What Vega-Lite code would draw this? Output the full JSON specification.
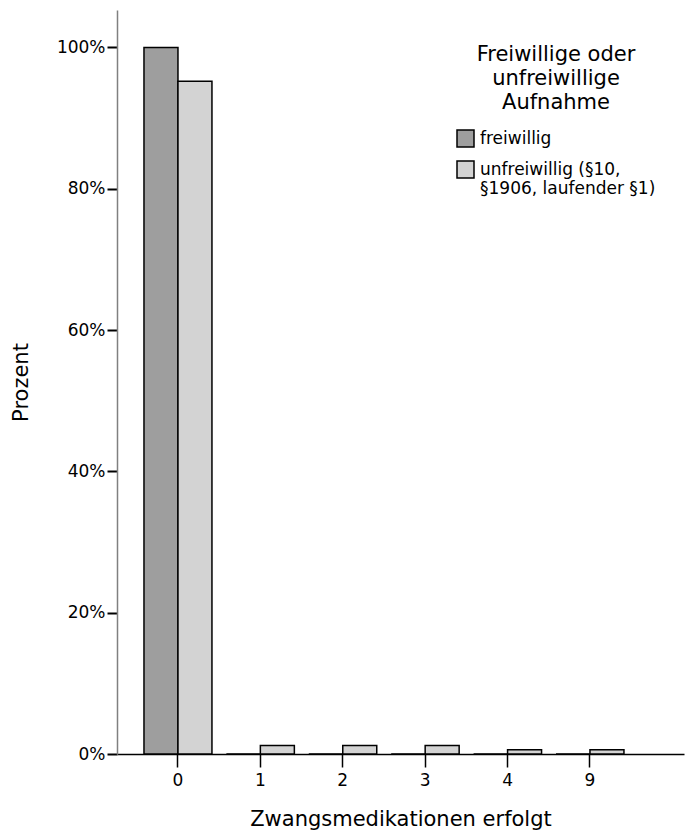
{
  "$schema": "https://vega.github.io/schema/vega-lite/v6.json",
  "width": 567,
  "height": 744,
  "autosize": {"type": "none"},
  "padding": {"left": 117, "top": 10, "right": 4, "bottom": 81},
  "background": "white",
  "config": {
    "view": {"stroke": null},
    "font": "DejaVu Sans",
    "axis": {"grid": false, "labelColor": "black", "titleColor": "black", "titleFontWeight": "normal", "labelFont": "DejaVu Sans", "titleFont": "DejaVu Sans"},
    "legend": {"labelFont": "DejaVu Sans", "titleFont": "DejaVu Sans"}
  },
  "data": {
    "values": [
      {"k": "0", "gruppe": "freiwillig", "p": 1.0},
      {"k": "0", "gruppe": "unfreiwillig (§10, §1906, laufender §1)", "p": 0.952},
      {"k": "1", "gruppe": "freiwillig", "p": 0},
      {"k": "1", "gruppe": "unfreiwillig (§10, §1906, laufender §1)", "p": 0.012},
      {"k": "2", "gruppe": "freiwillig", "p": 0},
      {"k": "2", "gruppe": "unfreiwillig (§10, §1906, laufender §1)", "p": 0.012},
      {"k": "3", "gruppe": "freiwillig", "p": 0},
      {"k": "3", "gruppe": "unfreiwillig (§10, §1906, laufender §1)", "p": 0.012},
      {"k": "4", "gruppe": "freiwillig", "p": 0},
      {"k": "4", "gruppe": "unfreiwillig (§10, §1906, laufender §1)", "p": 0.006},
      {"k": "9", "gruppe": "freiwillig", "p": 0},
      {"k": "9", "gruppe": "unfreiwillig (§10, §1906, laufender §1)", "p": 0.006}
    ]
  },
  "mark": {"type": "bar", "stroke": "black", "strokeWidth": 1.5},
  "encoding": {
    "x": {
      "field": "k", "type": "nominal", "sort": null,
      "scale": {"paddingInner": 0.175, "paddingOuter": 0.528, "align": 0.31},
      "axis": {
        "title": "Zwangsmedikationen erfolgt", "titleFontSize": 21, "titlePadding": 20,
        "labelAngle": 0, "labelFontSize": 17, "labelPadding": 5,
        "domainColor": "black", "domainWidth": 1.5,
        "tickColor": "black", "tickSize": 13, "tickWidth": 1.5
      }
    },
    "xOffset": {"field": "gruppe", "type": "nominal", "sort": ["freiwillig", "unfreiwillig (§10, §1906, laufender §1)"], "scale": {"paddingInner": 0, "paddingOuter": 0}},
    "y": {
      "field": "p", "type": "quantitative",
      "scale": {"domain": [0, 1.053], "nice": false},
      "axis": {
        "title": "Prozent", "titleFontSize": 21, "titlePadding": 25,
        "values": [0, 0.2, 0.4, 0.6, 0.8, 1.0], "format": ".0%",
        "labelFontSize": 17, "labelPadding": 2,
        "domainColor": "#808080", "domainWidth": 1.5,
        "tickColor": "black", "tickSize": 10, "tickWidth": 2
      }
    },
    "fill": {
      "field": "gruppe", "type": "nominal",
      "sort": ["freiwillig", "unfreiwillig (§10, §1906, laufender §1)"],
      "scale": {"range": ["#9e9e9e", "#d3d3d3"]},
      "legend": {
        "orient": "none", "legendX": 339, "legendY": 34,
        "title": ["Freiwillige oder", "unfreiwillige", "Aufnahme"],
        "titleFontSize": 21, "titleFontWeight": "normal", "titleLineHeight": 24,
        "titleAnchor": "middle", "titleAlign": "center", "titlePadding": 16, "titleColor": "black",
        "symbolType": "square", "symbolSize": 289, "symbolStrokeColor": "black", "symbolStrokeWidth": 1.5,
        "labelFontSize": 17, "labelColor": "black", "labelLimit": 300, "labelOffset": 5, "labelLineHeight": 20,
        "labelExpr": "datum.label == 'freiwillig' ? 'freiwillig' : ['unfreiwillig (§10,', '§1906, laufender §1)']",
        "rowPadding": 8
      }
    }
  }
}
